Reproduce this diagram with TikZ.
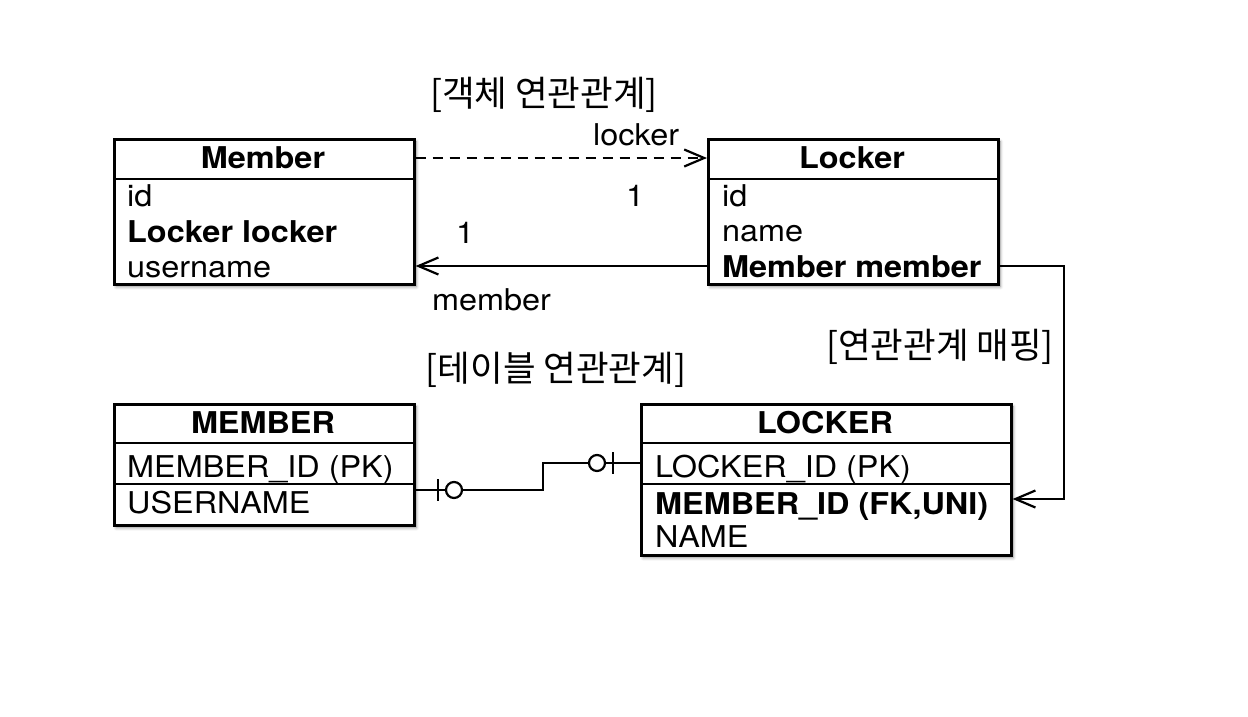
\documentclass[tikz,border=0pt]{standalone}
\usepackage{fontspec}
\setmainfont[FakeStretch=1.08]{TeX Gyre Heros}
\newfontfamily\krfont{Noto Sans CJK KR}
\usetikzlibrary{arrows.meta,shadows.blur,calc}
\begin{document}
\begin{tikzpicture}[x=1pt,y=-1pt,
  box/.style={draw, line width=2.6pt, fill=white, inner sep=0pt, anchor=north west,
    blur shadow={shadow xshift=2pt, shadow yshift=-2.5pt, shadow blur radius=3pt, shadow opacity=45}},
  sepline/.style={line width=2.4pt},
  rowtxt/.style={anchor=base west, inner sep=0pt, font=\fontsize{30}{32}\selectfont},
  boldtxt/.style={rowtxt, font=\fontsize{30}{32}\selectfont\bfseries},
  titletxt/.style={anchor=base, inner sep=0pt, font=\fontsize{30}{32}\selectfont\bfseries},
  lbl/.style={anchor=base west, inner sep=0pt, font=\fontsize{30}{32}\selectfont},
  krlbl/.style={anchor=center, inner sep=0pt, font=\krfont\fontsize{35.5}{38}\selectfont},
  conn/.style={line width=2.2pt},
  tip/.style={-{Straight Barb[length=20pt,width=17pt,line width=2.2pt]}}
]
\useasboundingbox (0,0) rectangle (1248,716);

% ---- object model ----
\node[box, minimum width=300pt, minimum height=145pt] (member) at (113,138) {};
\draw[sepline] (member.west |- 0,179) -- (member.east |- 0,179);
\node[titletxt] (memberT) at (263,168) {Member};
\node[rowtxt] (memberR1) at (127,206) {id};
\node[boldtxt] (memberR2) at (127,242) {Locker locker};
\node[rowtxt] (memberR3) at (127,277) {username};

\node[box, minimum width=290pt, minimum height=145pt] (locker) at (707,138) {};
\draw[sepline] (locker.west |- 0,179) -- (locker.east |- 0,179);
\node[titletxt] (lockerT) at (852,168) {Locker};
\node[rowtxt] (lockerR1) at (722,206) {id};
\node[rowtxt] (lockerR2) at (722,241) {name};
\node[boldtxt] (lockerR3) at (722,277) {Member member};

% ---- table model ----
\node[box, minimum width=300pt, minimum height=121pt] (dbmember) at (113,403) {};
\draw[sepline] (dbmember.west |- 0,443) -- (dbmember.east |- 0,443);
\draw[sepline] (dbmember.west |- 0,484) -- (dbmember.east |- 0,484);
\node[titletxt] (dbmemberT) at (263,433) {MEMBER};
\node[rowtxt] (dbmemberR1) at (127,477) {MEMBER\_ID (PK)};
\node[rowtxt] (dbmemberR2) at (127,513) {USERNAME};

\node[box, minimum width=370pt, minimum height=151pt] (dblocker) at (640,403) {};
\draw[sepline] (dblocker.west |- 0,443) -- (dblocker.east |- 0,443);
\draw[sepline] (dblocker.west |- 0,484) -- (dblocker.east |- 0,484);
\node[titletxt] (dblockerT) at (825,433) {LOCKER};
\node[rowtxt] (dblockerR1) at (655,477) {LOCKER\_ID (PK)};
\node[boldtxt] (dblockerR2) at (655,514) {MEMBER\_ID (FK,UNI)};
\node[rowtxt] (dblockerR3) at (655,547) {NAME};

% ---- labels ----
\node[krlbl] (objLbl) at (544,95) {[객체 연관관계]};
\node[krlbl] (tblLbl) at (556,370) {[테이블 연관관계]};
\node[krlbl] (mapLbl) at (940,347) {[연관관계 매핑]};
\node[lbl] (lockerLbl) at (593,145) {locker};
\node[lbl] (oneA) at (626,206) {1};
\node[lbl] (oneB) at (456,243) {1};
\node[lbl] (memberLbl) at (432,310) {member};

% ---- connectors ----
\draw[conn, tip, dash pattern=on 10pt off 7pt] (member.east |- 0,158) -- (locker.west |- 0,158);
\draw[conn, tip] (locker.west |- 0,266) -- (member.east |- 0,266);
\coordinate (mapTurnA) at (1064,266);
\coordinate (mapTurnB) at (1064,499);
\draw[conn, tip] (locker.east |- mapTurnA) -- (mapTurnA) -- (mapTurnB) -- (dblocker.east |- mapTurnB);

\coordinate (relStepA) at (543,490);
\coordinate (relStepB) at (543,463);
\draw[conn] (dbmember.east |- relStepA) -- (relStepA) -- (relStepB) -- (dblocker.west |- relStepB);
\draw[conn] (438,479) -- (438,501);
\draw[conn, fill=white] (454,490) circle (8pt);
\draw[conn, fill=white] (597,463) circle (8pt);
\draw[conn] (613,452) -- (613,474);
\end{tikzpicture}
\end{document}
